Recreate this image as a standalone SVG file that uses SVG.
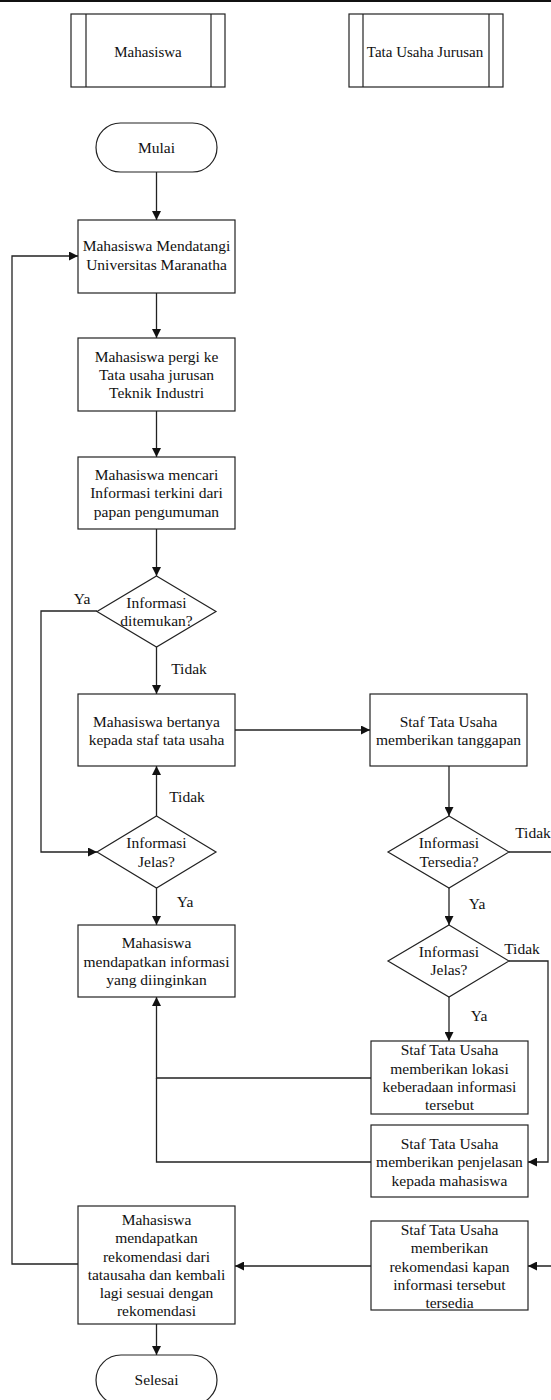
<svg xmlns="http://www.w3.org/2000/svg" width="551" height="1400" viewBox="0 0 551 1400" font-family="'Liberation Serif', 'DejaVu Serif', serif">
  <style>
    .shape { fill: #ffffff; stroke: #222222; stroke-width: 1.2; }
    .lane { fill: none; stroke: #222222; stroke-width: 1.2; }
    .wire { fill: none; stroke: #222222; stroke-width: 1.3; }
    .arrow { marker-end: url(#head); }
    .t { font-family: 'Liberation Serif', 'DejaVu Serif', serif; font-size: 15.5px; fill: #111111; text-anchor: middle; }
    .hdr { font-size: 15px; }
  </style>
  <defs>
    <marker id="head" markerUnits="userSpaceOnUse" markerWidth="10" markerHeight="9" refX="9" refY="4.5" orient="auto">
      <path d="M0,0 L9,4.5 L0,9 Z" fill="#111111"/>
    </marker>
  </defs>

  <rect width="551" height="1400" fill="#ffffff"/>
  <!-- top page rule -->
  <rect x="0" y="0" width="551" height="2" fill="#111111"/>

  <!-- swimlane headers -->
  <g id="lane-mahasiswa">
    <rect class="shape" x="71" y="14" width="154" height="73"/>
    <line class="lane" x1="86" y1="14" x2="86" y2="87"/>
    <line class="lane" x1="211" y1="14" x2="211" y2="87"/>
    <text class="t hdr" x="148" y="57">Mahasiswa</text>
  </g>
  <g id="lane-tu">
    <rect class="shape" x="349" y="14" width="154" height="73"/>
    <line class="lane" x1="363" y1="14" x2="363" y2="87"/>
    <line class="lane" x1="489" y1="14" x2="489" y2="87"/>
    <text class="t hdr" x="425" y="57">Tata Usaha Jurusan</text>
  </g>

  <!-- connectors -->
  <g id="connectors">
    <path class="wire arrow" d="M156.5,172 V220"/>
    <path class="wire arrow" d="M156.5,293 V338"/>
    <path class="wire arrow" d="M156.5,411 V457"/>
    <path class="wire arrow" d="M156.5,529 V576"/>
    <path class="wire arrow" d="M156.5,647 V694"/>
    <path class="wire arrow" d="M97,611 H41 V852 H97"/>
    <path class="wire arrow" d="M156.5,816 V766"/>
    <path class="wire arrow" d="M156.5,888 V925"/>
    <path class="wire arrow" d="M235,730 H370"/>
    <path class="wire arrow" d="M449,766 V816"/>
    <path class="wire arrow" d="M449,888 V925"/>
    <path class="wire arrow" d="M449,997 V1041"/>
    <path class="wire arrow" d="M509,961 H548 V1162 H528"/>
    <path class="wire arrow" d="M509,852 H553 V1266 H528"/>
    <path class="wire arrow" d="M371,1078 H156.5 V997"/>
    <path class="wire" d="M371,1162 H156.5 V1078"/>
    <path class="wire arrow" d="M371,1266 H235"/>
    <path class="wire arrow" d="M78,1264 H12 V256 H78"/>
    <path class="wire arrow" d="M156.5,1324 V1355"/>
  </g>

  <!-- labels on branches -->
  <g id="branch-labels">
    <text class="t" x="82" y="604">Ya</text>
    <text class="t" x="189" y="674">Tidak</text>
    <text class="t" x="187" y="802">Tidak</text>
    <text class="t" x="185" y="907">Ya</text>
    <text class="t" x="533" y="838">Tidak</text>
    <text class="t" x="477" y="909">Ya</text>
    <text class="t" x="522" y="954">Tidak</text>
    <text class="t" x="479" y="1021">Ya</text>
  </g>

  <g id="mulai">
    <rect class="shape" x="96" y="123" width="121" height="49" rx="24.5" ry="24.5"/>
    <text class="t" x="156.5" y="152.5">Mulai</text>
  </g>

  <g id="datang">
    <rect class="shape" x="78" y="220" width="157" height="73"/>
    <text class="t" x="156.5" y="251">Mahasiswa Mendatangi</text>
    <text class="t" x="156.5" y="270">Universitas Maranatha</text>
  </g>

  <g id="pergi-tu">
    <rect class="shape" x="78" y="338" width="157" height="73"/>
    <text class="t" x="156.5" y="362">Mahasiswa pergi ke</text>
    <text class="t" x="156.5" y="380">Tata usaha jurusan</text>
    <text class="t" x="156.5" y="398">Teknik Industri</text>
  </g>

  <g id="cari-info">
    <rect class="shape" x="78" y="457" width="157" height="72"/>
    <text class="t" x="156.5" y="480">Mahasiswa mencari</text>
    <text class="t" x="156.5" y="498">Informasi terkini dari</text>
    <text class="t" x="156.5" y="517">papan pengumuman</text>
  </g>

  <g id="cek-ditemukan">
    <polygon class="shape" points="156.5,576 216,611.5 156.5,647 97,611.5"/>
    <text class="t" x="156.5" y="608">Informasi</text>
    <text class="t" x="156.5" y="626">ditemukan?</text>
  </g>

  <g id="bertanya">
    <rect class="shape" x="78" y="694" width="157" height="72"/>
    <text class="t" x="156.5" y="727">Mahasiswa bertanya</text>
    <text class="t" x="156.5" y="745">kepada staf tata usaha</text>
  </g>

  <g id="tanggapan">
    <rect class="shape" x="370" y="694" width="157" height="72"/>
    <text class="t" x="448.5" y="727">Staf Tata Usaha</text>
    <text class="t" x="448.5" y="745">memberikan tanggapan</text>
  </g>

  <g id="cek-jelas-mhs">
    <polygon class="shape" points="156.5,816 216,852 156.5,888 97,852"/>
    <text class="t" x="156.5" y="848">Informasi</text>
    <text class="t" x="156.5" y="867">Jelas?</text>
  </g>

  <g id="dapat-info">
    <rect class="shape" x="78" y="925" width="157" height="72"/>
    <text class="t" x="156.5" y="948">Mahasiswa</text>
    <text class="t" x="156.5" y="967">mendapatkan informasi</text>
    <text class="t" x="156.5" y="985">yang diinginkan</text>
  </g>

  <g id="cek-tersedia">
    <polygon class="shape" points="449,816 509,852 449,888 388,852"/>
    <text class="t" x="449" y="848">Informasi</text>
    <text class="t" x="449" y="867">Tersedia?</text>
  </g>

  <g id="cek-jelas-tu">
    <polygon class="shape" points="449,925 509,961 449,997 388,961"/>
    <text class="t" x="449" y="957">Informasi</text>
    <text class="t" x="449" y="975">Jelas?</text>
  </g>

  <g id="lokasi">
    <rect class="shape" x="371" y="1041" width="157" height="73"/>
    <text class="t" x="449.5" y="1055">Staf Tata Usaha</text>
    <text class="t" x="449.5" y="1074">memberikan lokasi</text>
    <text class="t" x="449.5" y="1092">keberadaan informasi</text>
    <text class="t" x="449.5" y="1110">tersebut</text>
  </g>

  <g id="penjelasan">
    <rect class="shape" x="371" y="1125" width="157" height="72"/>
    <text class="t" x="449.5" y="1149">Staf Tata Usaha</text>
    <text class="t" x="449.5" y="1167">memberikan penjelasan</text>
    <text class="t" x="449.5" y="1186">kepada mahasiswa</text>
  </g>

  <g id="rekomendasi-tu">
    <rect class="shape" x="371" y="1221" width="157" height="89"/>
    <text class="t" x="449.5" y="1235">Staf Tata Usaha</text>
    <text class="t" x="449.5" y="1253">memberikan</text>
    <text class="t" x="449.5" y="1272">rekomendasi kapan</text>
    <text class="t" x="449.5" y="1290">informasi tersebut</text>
    <text class="t" x="449.5" y="1308">tersedia</text>
  </g>

  <g id="rekomendasi-mhs">
    <rect class="shape" x="78" y="1206" width="157" height="118"/>
    <text class="t" x="156.5" y="1225">Mahasiswa</text>
    <text class="t" x="156.5" y="1243">mendapatkan</text>
    <text class="t" x="156.5" y="1262">rekomendasi dari</text>
    <text class="t" x="156.5" y="1280">tatausaha dan kembali</text>
    <text class="t" x="156.5" y="1298">lagi sesuai dengan</text>
    <text class="t" x="156.5" y="1316">rekomendasi</text>
  </g>

  <g id="selesai">
    <rect class="shape" x="96" y="1355" width="121" height="50" rx="25" ry="25"/>
    <text class="t" x="156.5" y="1385">Selesai</text>
  </g>
</svg>
